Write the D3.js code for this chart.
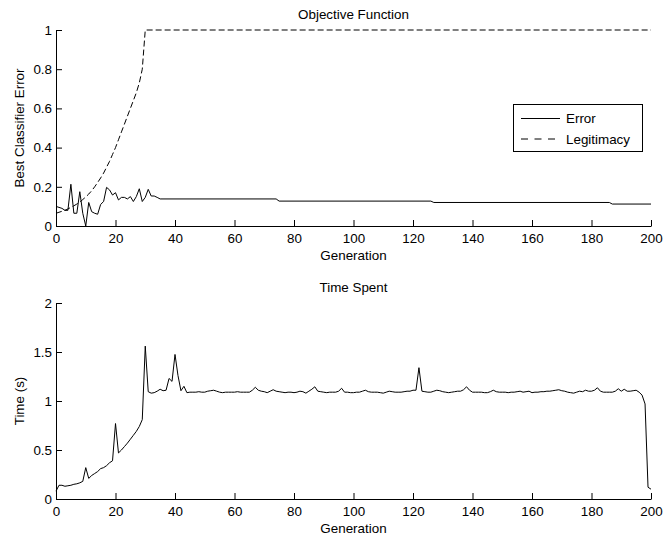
<!DOCTYPE html>
<html>
<head>
<meta charset="utf-8">
<script src="https://cdn.jsdelivr.net/npm/d3@7"></script>
<style>
  body { margin: 0; background: #fff; }
  svg { font-family: "Liberation Sans", Arial, sans-serif; }
  .axis text { font-size: 13.4px; fill: #000; }
  .axis path, .axis line { stroke: #000; }
  .title, .label { font-size: 13.4px; fill: #000; }
  .line { fill: none; stroke: #000; stroke-width: 1; }
</style>
</head>
<body>
<div id="chart"></div>
<script>
// best classifier error, [generation, value]
const errorPoints = [
  [0, 0.10], [1, 0.095], [2, 0.09], [3, 0.08], [4, 0.08], [5, 0.213], [6, 0.065],
  [7, 0.065], [8, 0.175], [9, 0.065], [10, 0], [11, 0.12], [12, 0.073], [13, 0.065],
  [14, 0.06], [15, 0.11], [16, 0.125], [17, 0.197], [18, 0.184], [19, 0.158],
  [20, 0.17], [21, 0.133], [22, 0.146], [23, 0.146], [24, 0.138], [25, 0.15],
  [26, 0.125], [27, 0.15], [28, 0.19], [29, 0.125], [30, 0.146], [31, 0.187],
  [32, 0.153], [33, 0.153], [34, 0.146], [35, 0.138], [74, 0.138], [75, 0.127],
  [126, 0.127], [127, 0.12], [186, 0.12], [187, 0.112], [200, 0.112]
];

// legitimacy of the best classifier, [generation, value]
const legitimacyPoints = [
  [0, 0.065], [1, 0.07], [2, 0.075], [3, 0.08], [4, 0.087], [5, 0.095], [6, 0.103],
  [7, 0.112], [8, 0.122], [9, 0.135], [10, 0.148], [11, 0.163], [12, 0.18],
  [13, 0.2], [14, 0.222], [15, 0.245], [16, 0.27], [17, 0.3], [18, 0.33],
  [19, 0.365], [20, 0.4], [21, 0.44], [22, 0.48], [23, 0.52], [24, 0.56],
  [25, 0.6], [26, 0.64], [27, 0.68], [28, 0.73], [29, 0.8], [30, 1], [200, 1]
];

// time spent per generation (s), index = generation 0..200
const timeValues = [
  0.08, 0.14, 0.14, 0.13, 0.135, 0.14, 0.15, 0.155, 0.165, 0.18,
  0.32, 0.21, 0.24, 0.26, 0.28, 0.31, 0.32, 0.34, 0.37, 0.39,
  0.77, 0.47, 0.50, 0.535, 0.57, 0.61, 0.65, 0.69, 0.74, 0.81,
  1.56, 1.095, 1.08, 1.085, 1.10, 1.12, 1.105, 1.11, 1.23, 1.20,
  1.475, 1.26, 1.105, 1.15, 1.085, 1.09, 1.09, 1.09, 1.095, 1.09,
  1.09, 1.10, 1.105, 1.11, 1.10, 1.09, 1.085, 1.09, 1.09, 1.09,
  1.09, 1.095, 1.09, 1.09, 1.09, 1.09, 1.11, 1.14, 1.11, 1.10,
  1.095, 1.085, 1.10, 1.115, 1.10, 1.095, 1.09, 1.085, 1.09, 1.09,
  1.085, 1.09, 1.10, 1.095, 1.08, 1.10, 1.12, 1.145, 1.10, 1.095,
  1.09, 1.085, 1.09, 1.09, 1.09, 1.10, 1.13, 1.09, 1.09, 1.085,
  1.085, 1.09, 1.09, 1.10, 1.11, 1.095, 1.09, 1.09, 1.09, 1.085,
  1.08, 1.09, 1.10, 1.095, 1.09, 1.09, 1.09, 1.095, 1.10, 1.10,
  1.11, 1.11, 1.34, 1.10, 1.095, 1.09, 1.09, 1.10, 1.11, 1.105,
  1.095, 1.09, 1.085, 1.09, 1.095, 1.10, 1.10, 1.115, 1.145, 1.11,
  1.09, 1.09, 1.09, 1.09, 1.085, 1.085, 1.095, 1.11, 1.095, 1.09,
  1.09, 1.09, 1.085, 1.09, 1.09, 1.095, 1.10, 1.09, 1.095, 1.10,
  1.085, 1.09, 1.09, 1.095, 1.095, 1.10, 1.10, 1.105, 1.11, 1.115,
  1.105, 1.10, 1.09, 1.085, 1.08, 1.09, 1.10, 1.095, 1.11, 1.10,
  1.10, 1.11, 1.135, 1.10, 1.09, 1.09, 1.09, 1.09, 1.10, 1.125,
  1.10, 1.12, 1.10, 1.10, 1.105, 1.11, 1.09, 1.06, 0.97, 0.12,
  0.10
];

const xTicks = [0, 20, 40, 60, 80, 100, 120, 140, 160, 180, 200];
const topYTicks = [0, 0.2, 0.4, 0.6, 0.8, 1];
const bottomYTicks = [0, 0.5, 1, 1.5, 2];
const legendLabels = ['Error', 'Legitimacy'];

const width = 663, height = 538;
const svg = d3.select('#chart').append('svg')
  .attr('width', width)
  .attr('height', height);

const left = 56, right = 651;

function panel(top, bottom, yMax, yTicks, title, yLabel) {
  const x = d3.scaleLinear().domain([0, 200]).range([left, right]);
  const y = d3.scaleLinear().domain([0, yMax]).range([bottom, top]);

  svg.append('g')
    .attr('class', 'axis')
    .attr('transform', `translate(0,${bottom})`)
    .call(d3.axisBottom(x).tickValues(xTicks).tickSizeInner(-6).tickSizeOuter(0).tickPadding(7));

  svg.append('g')
    .attr('class', 'axis')
    .attr('transform', `translate(${left},0)`)
    .call(d3.axisLeft(y).tickValues(yTicks).tickFormat(d3.format('~g'))
      .tickSizeInner(-6).tickSizeOuter(0).tickPadding(4));

  svg.append('text')
    .attr('class', 'title')
    .attr('x', (left + right) / 2)
    .attr('y', top - 11)
    .attr('text-anchor', 'middle')
    .text(title);

  svg.append('text')
    .attr('class', 'label')
    .attr('x', (left + right) / 2)
    .attr('y', bottom + 34)
    .attr('text-anchor', 'middle')
    .text('Generation');

  svg.append('text')
    .attr('class', 'label')
    .attr('transform', `translate(24,${(top + bottom) / 2}) rotate(-90)`)
    .attr('text-anchor', 'middle')
    .text(yLabel);

  return { x, y };
}

// top panel: objective function
const p1 = panel(30, 226, 1, topYTicks, 'Objective Function', 'Best Classifier Error');
const line1 = d3.line().x(d => p1.x(d[0])).y(d => p1.y(d[1]));

svg.append('path')
  .datum(errorPoints)
  .attr('class', 'line')
  .attr('d', line1);

svg.append('path')
  .datum(legitimacyPoints)
  .attr('class', 'line')
  .attr('stroke-dasharray', '6,3')
  .attr('d', line1);

// legend
const legend = svg.append('g').attr('transform', 'translate(513,104)');
legend.append('rect')
  .attr('x', 0.5).attr('y', 0.5)
  .attr('width', 129).attr('height', 47)
  .attr('fill', '#fff').attr('stroke', '#000');

legendLabels.forEach((label, i) => {
  const ly = 14.5 + i * 20.5;
  legend.append('line')
    .attr('class', 'line')
    .attr('x1', 8).attr('x2', 47)
    .attr('y1', ly).attr('y2', ly)
    .attr('stroke-dasharray', i === 1 ? '7,6.5' : null);
  legend.append('text')
    .attr('class', 'label')
    .attr('x', 53)
    .attr('y', ly)
    .attr('dy', '0.35em')
    .text(label);
});

// bottom panel: time spent
const p2 = panel(303, 499, 2, bottomYTicks, 'Time Spent', 'Time (s)');
const line2 = d3.line().x((d, i) => p2.x(i)).y(d => p2.y(d));

svg.append('path')
  .datum(timeValues)
  .attr('class', 'line')
  .attr('d', line2);
</script>
</body>
</html>
